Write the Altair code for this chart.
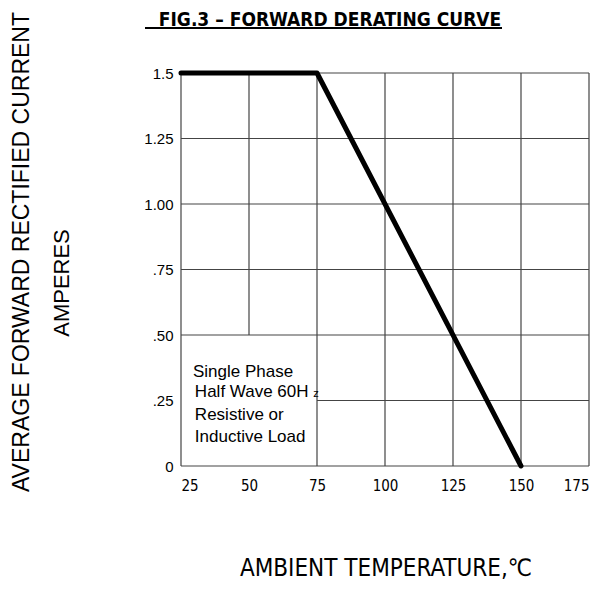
import altair as alt
import pandas as pd

# Derating curve
curve_temp = [25, 75, 150]
curve_amps = [1.5, 1.5, 0.0]

# Grid lines (vertical: x, y from, y to; horizontal: y, x from, x to)
v_x = [25, 50, 75, 100, 125, 150, 175]
v_y1 = [0, 0.5, 0, 0, 0, 0, 0]
v_y2 = [1.5, 1.5, 1.5, 1.5, 1.5, 1.5, 1.5]
h_y = [0, 0.25, 0.5, 0.75, 1.0, 1.25, 1.5]
h_x1 = [25, 75, 25, 25, 25, 25, 25]
h_x2 = [175, 175, 175, 175, 175, 175, 175]

x_ticks = [25, 50, 75, 100, 125, 150, 175]
y_ticks = [0, 0.25, 0.5, 0.75, 1.0, 1.25, 1.5]
y_tick_labels = ["0", ".25", ".50", ".75", "1.00", "1.25", "1.5"]

note_lines = ["Single Phase", "Half Wave 60H", "Resistive or", "Inductive Load"]
note_x = [29.4, 30.1, 30.1, 30.1]
note_y = [0.34, 0.263, 0.176, 0.092]

title_text = "FIG.3 \u2013 FORWARD DERATING CURVE"
x_title = "AMBIENT TEMPERATURE,\u2103"
y_title1 = "AVERAGE FORWARD RECTIFIED CURRENT"
y_title2 = "AMPERES"

label_expr = "datum.value == 0 ? '0' : datum.value == 0.25 ? '.25' : datum.value == 0.5 ? '.50' : datum.value == 0.75 ? '.75' : datum.value == 1 ? '1.00' : datum.value == 1.25 ? '1.25' : '1.5'"

NARROW = "DejaVu Sans Condensed, Liberation Sans Narrow, sans-serif"
SANS = "Liberation Sans, Arial, sans-serif"

xs = alt.Scale(domain=[25, 175], nice=False, zero=False)
ys = alt.Scale(domain=[0, 1.5], nice=False, zero=False)

curve_df = pd.DataFrame({"t": curve_temp, "a": curve_amps})
v_df = pd.DataFrame({"x": v_x, "y1": v_y1, "y2": v_y2})
h_df = pd.DataFrame({"y": h_y, "x1": h_x1, "x2": h_x2})
note_df = pd.DataFrame({"x": note_x, "y": note_y, "txt": note_lines})

base_axes = alt.Chart(curve_df).mark_point(opacity=0).encode(
    x=alt.X("t:Q", scale=xs, axis=alt.Axis(
        values=x_ticks, title=None, grid=False, domain=False, ticks=False,
        labelFont=NARROW, labelFontSize=15, labelColor="#000", labelPadding=12)),
    y=alt.Y("a:Q", scale=ys, axis=alt.Axis(
        values=y_ticks, labelExpr=label_expr, title=None, grid=False, domain=False,
        ticks=False, labelFont=SANS, labelFontSize=15, labelColor="#000", labelPadding=8)),
)

vgrid = alt.Chart(v_df).mark_rule(color="#444", strokeWidth=1.2).encode(
    x=alt.X("x:Q", scale=xs), y=alt.Y("y1:Q", scale=ys), y2="y2:Q")
hgrid = alt.Chart(h_df).mark_rule(color="#444", strokeWidth=1.2).encode(
    y=alt.Y("y:Q", scale=ys), x=alt.X("x1:Q", scale=xs), x2="x2:Q")

line = alt.Chart(curve_df).mark_line(color="#000", strokeWidth=5, strokeCap="round", strokeJoin="round").encode(
    x=alt.X("t:Q", scale=xs), y=alt.Y("a:Q", scale=ys))

notes = alt.Chart(note_df).mark_text(align="left", baseline="alphabetic", font=SANS, fontSize=17, color="#000").encode(
    x=alt.X("x:Q", scale=xs), y=alt.Y("y:Q", scale=ys), text="txt:N")
sub_z = alt.Chart(pd.DataFrame({"x": [73.6], "y": [0.265], "txt": ["z"]})).mark_text(
    align="left", baseline="alphabetic", font=SANS, fontSize=11, color="#000").encode(
    x=alt.X("x:Q", scale=xs), y=alt.Y("y:Q", scale=ys), text="txt:N")

title = alt.Chart(pd.DataFrame({"txt": [title_text]})).mark_text(
    font=NARROW, fontSize=19, fontWeight="bold", color="#000", baseline="top").encode(
    x=alt.value(149), y=alt.value(-62), text="txt:N")
underline = alt.Chart(pd.DataFrame({"a": [0]})).mark_rule(color="#000", strokeWidth=2).encode(
    x=alt.value(-36), x2=alt.value(321), y=alt.value(-45))

xtitle = alt.Chart(pd.DataFrame({"txt": [x_title]})).mark_text(
    font=NARROW, fontSize=24, color="#000", baseline="middle").encode(
    x=alt.value(205), y=alt.value(496), text="txt:N")

ytitle1 = alt.Chart(pd.DataFrame({"txt": [y_title1]})).mark_text(
    font=SANS, fontSize=23, color="#000", baseline="middle", angle=270).encode(
    x=alt.value(-159), y=alt.value(179), text="txt:N")
ytitle2 = alt.Chart(pd.DataFrame({"txt": [y_title2]})).mark_text(
    font=SANS, fontSize=22, color="#000", baseline="middle", angle=270).encode(
    x=alt.value(-119), y=alt.value(210), text="txt:N")

chart = alt.layer(base_axes, vgrid, hgrid, line, notes, sub_z, title, underline, xtitle, ytitle1, ytitle2).properties(
    width=408, height=393,
    padding={"left": 173, "top": 65, "right": 3, "bottom": 115},
    autosize=alt.AutoSizeParams(type="none"),
).configure_view(stroke=None)

chart.save("out.html", embed_options={"renderer": "svg", "actions": False})
